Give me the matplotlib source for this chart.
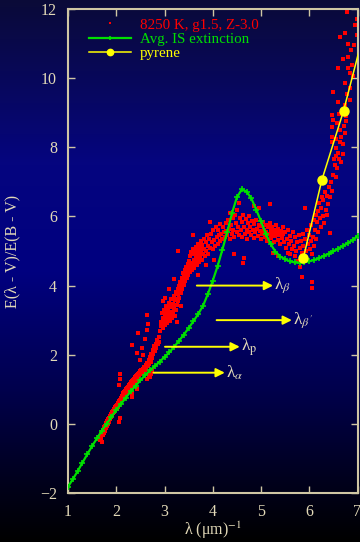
import matplotlib
matplotlib.use("Agg")
import matplotlib.pyplot as plt
import numpy as np
from matplotlib.colors import LinearSegmentedColormap

plt.rcParams["font.family"] = ["Liberation Serif", "DejaVu Serif"]
plt.rcParams["mathtext.fontset"] = "stix"

# ---- average interstellar extinction curve, E(lambda-V)/E(B-V) vs 1/lambda
ext_x = [1.0, 1.1, 1.2, 1.3, 1.4, 1.5, 1.6, 1.7, 1.8, 1.9,
         2.0, 2.1, 2.2, 2.3, 2.4, 2.5, 2.6, 2.7, 2.8, 2.9,
         3.0, 3.1, 3.2, 3.3, 3.4, 3.5, 3.6, 3.7, 3.8, 3.9,
         4.0, 4.1, 4.2, 4.3, 4.4, 4.5, 4.6, 4.7, 4.8, 4.9,
         5.0, 5.1, 5.2, 5.3, 5.4, 5.5, 5.6, 5.7, 5.8, 5.9,
         6.0, 6.1, 6.2, 6.3, 6.4, 6.5, 6.6, 6.7, 6.8, 6.9, 7.0]
ext_y = [-1.82, -1.60, -1.37, -1.12, -0.88, -0.64, -0.42, -0.20, 0.00, 0.20,
         0.40, 0.58, 0.76, 0.94, 1.10, 1.26, 1.41, 1.55, 1.67, 1.80,
         1.93, 2.07, 2.23, 2.40, 2.58, 2.77, 2.97, 3.18, 3.42, 3.76,
         4.14, 4.56, 5.04, 5.55, 6.10, 6.55, 6.78, 6.72, 6.52, 6.20,
         5.86, 5.50, 5.20, 4.98, 4.84, 4.76, 4.70, 4.67, 4.66, 4.68,
         4.70, 4.74, 4.79, 4.86, 4.92, 4.99, 5.07, 5.15, 5.23, 5.32, 5.43]

# ---- pyrene
pyrene_x = [5.88, 6.26, 6.71, 7.22]
pyrene_y = [4.81, 7.05, 9.05, 11.80]

# ---- stellar model colours (8250 K, log g 1.5, [Z] -3.0)
stars_optical = [
    (1.66, -0.48), (1.67, -0.38), (1.68, -0.30), (1.69, -0.42), (1.70, -0.52), (1.71, -0.24),
    (1.72, -0.33), (1.73, -0.18), (1.74, -0.26), (1.75, -0.10), (1.76, -0.20), (1.77, -0.05),
    (1.78, -0.13), (1.79, 0.02), (1.80, -0.06), (1.81, 0.08), (1.82, 0.00), (1.83, 0.13),
    (1.84, 0.05), (1.85, 0.18), (1.86, 0.10), (1.87, 0.23), (1.88, 0.15), (1.89, 0.28),
    (1.90, 0.20), (1.91, 0.33), (1.92, 0.25), (1.93, 0.38), (1.94, 0.30), (1.95, 0.43),
    (1.96, 0.35), (1.97, 0.48), (1.98, 0.40), (1.99, 0.52), (2.00, 0.45),
    (2.06, 0.05), (2.07, 0.18), (2.06, 1.12), (2.07, 1.30), (2.08, 1.45),
    (2.01, 0.55), (2.02, 0.42), (2.03, 0.60), (2.04, 0.50), (2.05, 0.65), (2.06, 0.54),
    (2.07, 0.70), (2.08, 0.60), (2.09, 0.74), (2.10, 0.64), (2.11, 0.80), (2.12, 0.70),
    (2.13, 0.84), (2.14, 0.74), (2.15, 0.88), (2.16, 0.78), (2.17, 0.92), (2.18, 0.83),
    (2.19, 0.96), (2.20, 0.87), (2.21, 1.00), (2.22, 0.91), (2.23, 1.04), (2.24, 0.95),
    (2.25, 1.08), (2.26, 0.99), (2.27, 1.12), (2.28, 1.03), (2.29, 1.16), (2.30, 1.07),
    (2.31, 1.20), (2.32, 1.11), (2.33, 1.24), (2.34, 1.15), (2.35, 1.28), (2.36, 1.19),
    (2.37, 1.31), (2.38, 1.23), (2.39, 1.35), (2.40, 1.27), (2.41, 1.38), (2.42, 1.30),
    (2.43, 1.42), (2.44, 1.33), (2.45, 1.45), (2.46, 1.37), (2.47, 1.48), (2.48, 1.40),
    (2.49, 1.52), (2.50, 1.43), (2.52, 1.55), (2.53, 1.47), (2.55, 1.60), (2.56, 1.51),
    (2.58, 1.65), (2.59, 1.55), (2.61, 1.70), (2.62, 1.60), (2.64, 1.76), (2.65, 1.66),
    (2.67, 1.84), (2.68, 1.72), (2.70, 1.92), (2.71, 1.80), (2.73, 2.02), (2.74, 1.90),
    (2.76, 2.14), (2.77, 2.02), (2.79, 2.25), (2.80, 2.12), (2.82, 2.32), (2.83, 2.20),
    (2.85, 2.42), (2.86, 2.30), (2.88, 2.50), (2.89, 2.38),
    (2.32, 0.78), (2.32, 0.90), (2.42, 1.00), (2.32, 2.28), (2.46, 2.62), (2.49, 1.85),
    (2.63, 3.15), (2.63, 2.71), (2.64, 1.30), (2.68, 1.40), (2.72, 1.45), (2.70, 1.36),
    (2.75, 1.55), (2.56, 2.00), (2.53, 2.19), (2.60, 2.45), (2.43, 2.05), (2.66, 2.90),
]

stars_nuv = [
    (2.91, 2.70), (2.92, 2.95), (2.93, 2.82), (2.94, 3.20), (2.95, 2.88), (2.96, 3.05),
    (2.97, 2.78), (2.98, 3.30), (2.99, 2.95), (3.00, 3.12), (3.01, 2.85), (3.02, 3.25),
    (3.03, 3.00), (3.04, 3.40), (3.05, 3.10), (3.06, 2.92), (3.07, 3.30), (3.08, 3.05),
    (3.09, 3.50), (3.10, 3.18), (3.11, 2.98), (3.12, 3.38), (3.13, 3.12), (3.14, 3.60),
    (3.15, 3.25), (3.16, 3.05), (3.17, 3.48), (3.18, 3.20), (3.19, 3.70), (3.20, 3.35),
    (3.21, 3.12), (3.22, 3.58), (3.23, 3.30), (3.24, 3.80), (3.25, 3.45), (3.26, 3.62),
    (3.27, 3.90), (3.28, 3.55), (3.29, 3.75), (3.30, 4.00), (3.31, 3.65), (3.32, 3.88),
    (3.33, 4.10), (3.34, 3.78), (3.35, 4.00), (3.36, 4.22), (3.37, 3.90), (3.38, 4.12),
    (3.39, 4.35), (3.40, 4.02), (3.41, 4.25), (3.42, 4.45), (3.43, 4.12), (3.44, 4.35),
    (3.45, 4.55), (3.46, 4.22), (3.47, 4.45), (3.48, 4.62), (3.49, 4.30), (3.50, 4.52),
    (3.29, 5.01), (3.20, 4.20), (3.10, 3.90), (3.02, 3.65), (2.96, 3.55), (3.35, 3.40),
    (3.25, 2.95),
    (3.51, 4.70), (3.52, 4.40), (3.53, 4.85), (3.54, 4.55), (3.55, 4.98), (3.56, 4.65),
    (3.57, 4.45), (3.58, 4.90), (3.59, 4.60), (3.60, 5.05), (3.61, 4.75), (3.62, 4.52),
    (3.63, 4.95), (3.64, 4.68), (3.65, 5.12), (3.66, 4.82), (3.67, 4.60), (3.68, 5.02),
    (3.69, 4.75), (3.70, 5.20), (3.71, 4.90), (3.72, 4.68), (3.73, 5.10), (3.74, 4.85),
    (3.75, 5.28), (3.76, 4.98), (3.77, 4.75), (3.78, 5.18), (3.80, 4.92), (3.81, 5.35),
    (3.82, 5.05), (3.84, 4.85), (3.85, 5.25), (3.87, 5.00), (3.88, 5.45), (3.90, 5.15),
    (3.91, 4.92), (3.93, 5.35), (3.94, 5.85), (3.95, 5.10), (3.97, 5.50), (3.98, 5.25),
    (4.00, 5.05), (4.01, 5.60), (4.03, 5.32), (4.05, 5.15), (4.06, 5.70), (4.08, 5.40),
    (4.10, 5.20), (4.11, 5.62), (4.13, 5.45), (4.15, 5.28), (4.16, 5.78), (4.18, 5.50),
    (4.20, 5.35), (4.21, 5.70), (4.23, 5.55), (4.25, 5.40), (4.27, 5.82), (4.28, 5.58),
    (3.70, 4.30), (3.85, 4.60), (4.02, 4.75), (3.60, 5.45),
]

stars_fuv = [
    (4.30, 5.45), (4.31, 5.90), (4.33, 5.65), (4.35, 5.35), (4.36, 6.10), (4.38, 5.75),
    (4.40, 5.50), (4.41, 5.95), (4.43, 5.62), (4.45, 5.40), (4.46, 6.05), (4.48, 5.80),
    (4.50, 5.55), (4.51, 6.20), (4.53, 5.70), (4.55, 5.45), (4.56, 5.95), (4.58, 5.62),
    (4.60, 5.85), (4.61, 5.40), (4.63, 6.05), (4.63, 4.65), (4.64, 4.80), (4.65, 5.70),
    (4.66, 5.50), (4.68, 5.92), (4.70, 5.60), (4.71, 5.35), (4.73, 5.80), (4.75, 5.55),
    (4.76, 6.00), (4.78, 5.68), (4.80, 5.45), (4.81, 5.88), (4.83, 5.60), (4.85, 5.38),
    (4.86, 5.78), (4.88, 5.55), (4.90, 5.90), (4.91, 5.65), (4.93, 5.42), (4.95, 5.75),
    (4.96, 6.25), (4.98, 5.58), (5.00, 5.35), (5.01, 5.72), (5.03, 5.50), (5.05, 5.85),
    (5.06, 5.60), (5.08, 5.40), (5.10, 5.75), (5.11, 5.55), (5.13, 5.30), (5.15, 5.68),
    (5.16, 5.48), (5.18, 5.80), (5.20, 5.58), (5.21, 5.38), (5.23, 5.70), (5.25, 5.50),
    (5.26, 5.25), (5.28, 5.62), (5.30, 5.42), (5.31, 5.75), (5.33, 5.55), (5.35, 5.32),
    (5.36, 5.65), (5.38, 5.45), (5.40, 5.20), (5.41, 5.58), (5.43, 5.38), (5.45, 5.70),
    (5.46, 5.48), (5.48, 5.25),
    (4.45, 4.90), (4.55, 6.40), (4.85, 6.30), (5.19, 6.35), (5.25, 4.95), (5.35, 4.85),
    (5.50, 5.55), (5.51, 5.10), (5.53, 5.35), (5.55, 4.95), (5.56, 5.60), (5.58, 5.20),
    (5.60, 5.42), (5.61, 4.90), (5.63, 5.30), (5.65, 5.05), (5.66, 5.55), (5.68, 5.15),
    (5.70, 4.85), (5.71, 5.40), (5.73, 5.00), (5.75, 5.25), (5.76, 4.70), (5.78, 5.45),
    (5.80, 5.10), (5.81, 4.55), (5.83, 5.30), (5.84, 4.26), (5.85, 4.95), (5.87, 5.50),
    (5.88, 5.15), (5.90, 4.80), (5.91, 6.24), (5.92, 5.35), (5.94, 5.00), (5.95, 5.60),
    (5.97, 5.20), (5.98, 4.75), (6.00, 5.45), (6.01, 5.05), (6.03, 5.75), (6.04, 5.30),
    (6.05, 4.11), (6.05, 3.92), (6.06, 4.90), (6.08, 5.41), (6.09, 5.90), (6.10, 5.15),
    (6.12, 5.60), (6.13, 6.05), (6.15, 5.35), (6.16, 5.83), (6.18, 6.15), (6.19, 5.55),
    (6.21, 6.40), (6.22, 5.95), (6.24, 5.70), (6.25, 6.25), (6.27, 6.55), (6.28, 6.00),
    (6.29, 6.48), (6.31, 5.80), (6.33, 6.72), (6.34, 6.20), (6.36, 6.05), (6.37, 6.60),
    (6.39, 6.35), (6.41, 6.85), (6.43, 5.51), (6.44, 6.55), (6.46, 7.00), (6.48, 6.75),
    (6.50, 7.20),
    (6.56, 7.15), (6.53, 7.49), (6.66, 7.56), (6.52, 7.65), (6.62, 7.65), (6.55, 7.74),
    (6.60, 7.84), (6.69, 7.82), (6.56, 7.98), (6.69, 8.10), (6.47, 8.14), (6.56, 8.24),
    (6.66, 8.31), (6.47, 8.31), (6.74, 8.41), (6.64, 8.50), (6.47, 8.60), (6.71, 8.62),
    (6.50, 8.79), (6.47, 8.93), (6.74, 9.22), (6.84, 9.37), (6.60, 9.32), (6.49, 9.61),
    (6.84, 9.71), (6.74, 9.85), (6.84, 10.14), (6.60, 10.29), (6.88, 10.38), (6.81, 10.62),
    (6.98, 11.25), (6.81, 11.00), (6.64, 11.20), (6.74, 11.30), (6.78, 11.90), (6.98, 11.70),
    (6.95, 11.55), (6.92, 10.95), (6.90, 10.05), (6.62, 8.95), (6.58, 8.70), (6.72, 9.05),
    (6.77, 8.90), (6.79, 9.55), (6.86, 10.80), (6.70, 10.55), (6.80, 10.30), (6.57, 7.40),
    (6.63, 8.15), (6.76, 8.75),
]

# ---- marked wavelengths: (subscript, arrow start x, arrow end x, y)
band_subs = [r"$_{\beta}$", r"$_{\beta'}$", r"$_{\mathrm{p}}$", r"$_{\alpha}$"]
band_x0 = [3.67, 4.08, 3.01, 2.77]
band_x1 = [5.25, 5.64, 4.56, 4.25]
band_y = [4.00, 3.00, 2.23, 1.48]

TAN = "#e2d9b8"
SPINE = "#cfc6a4"
RED = "#ff0000"
GREEN = "#00e000"
YELLOW = "#ffff00"

W, H = 360, 542
fig = plt.figure(figsize=(W / 100, H / 100), dpi=100)

# vertical background gradient over the whole figure
bg = fig.add_axes([0, 0, 1, 1], zorder=-10)
bg_cmap = LinearSegmentedColormap.from_list(
    "sky",
    [(0.00, (0.04, 0.04, 0.22)),
     (0.30, (0.02, 0.02, 0.50)),
     (0.50, (0.00, 0.00, 0.50)),
     (0.72, (0.00, 0.00, 0.30)),
     (0.88, (0.00, 0.00, 0.12)),
     (1.00, (0.00, 0.00, 0.00))])
bg.imshow(np.linspace(0, 1, 256)[:, None], aspect="auto", cmap=bg_cmap,
          extent=[0, 1, 0, 1])
bg.axis("off")

ax = fig.add_axes([68 / W, 1 - 493 / H, (357.5 - 68) / W, (493 - 9) / H])
ax.set_facecolor("none")

stars = stars_optical + stars_nuv + stars_fuv
sx, sy = zip(*stars)
ax.plot(sx, sy, ls="none", marker="s", ms=2.3, mew=0, color=RED, zorder=2,
        label="8250 K, g1.5, Z-3.0")
ax.plot(ext_x, ext_y, color=GREEN, lw=1.6, marker="+", ms=5, mew=1.2, zorder=3,
        label="Avg. IS extinction")
ax.plot(pyrene_x, pyrene_y, color=YELLOW, lw=1.1, marker="o", ms=6.5, zorder=4,
        label="pyrene")

for sub, x0, x1, y in zip(band_subs, band_x0, band_x1, band_y):
    ax.annotate("", xy=(x1, y), xytext=(x0, y),
                arrowprops=dict(arrowstyle="-|>", color=YELLOW, lw=1.4,
                                mutation_scale=13, shrinkA=0, shrinkB=0),
                zorder=5)
    ax.text(x1 + 0.02, y, "λ" + sub, color=TAN, fontsize=12.5, va="center",
            ha="left", zorder=5)

ax.set_xlim(1, 7)
ax.set_ylim(-2, 12)
ax.set_xticks([1, 2, 3, 4, 5, 6, 7])
ax.set_yticks([-2, 0, 2, 4, 6, 8, 10, 12])
ax.tick_params(direction="in", length=5, width=1, colors=SPINE, labelcolor=TAN,
               labelsize=11.5, top=True, right=True, pad=8)
for s in ax.spines.values():
    s.set_color(SPINE)
    s.set_linewidth(1.5)

ax.set_xlabel(r"λ (μm)$^{-1}$", color=TAN, fontsize=11.5, labelpad=0)
ax.set_ylabel("E(λ - V)/E(B - V)", color=TAN, fontsize=11.5, labelpad=14)

leg = ax.legend(loc="upper left", frameon=False, fontsize=10.8, handlelength=2.8,
                handletextpad=0.6, labelspacing=0.05, borderaxespad=0.2,
                bbox_to_anchor=(0.04, 1.0), markerscale=0.7)
for txt, c in zip(leg.get_texts(), [RED, GREEN, YELLOW]):
    txt.set_color(c)

fig.savefig("out.png", dpi=100)
